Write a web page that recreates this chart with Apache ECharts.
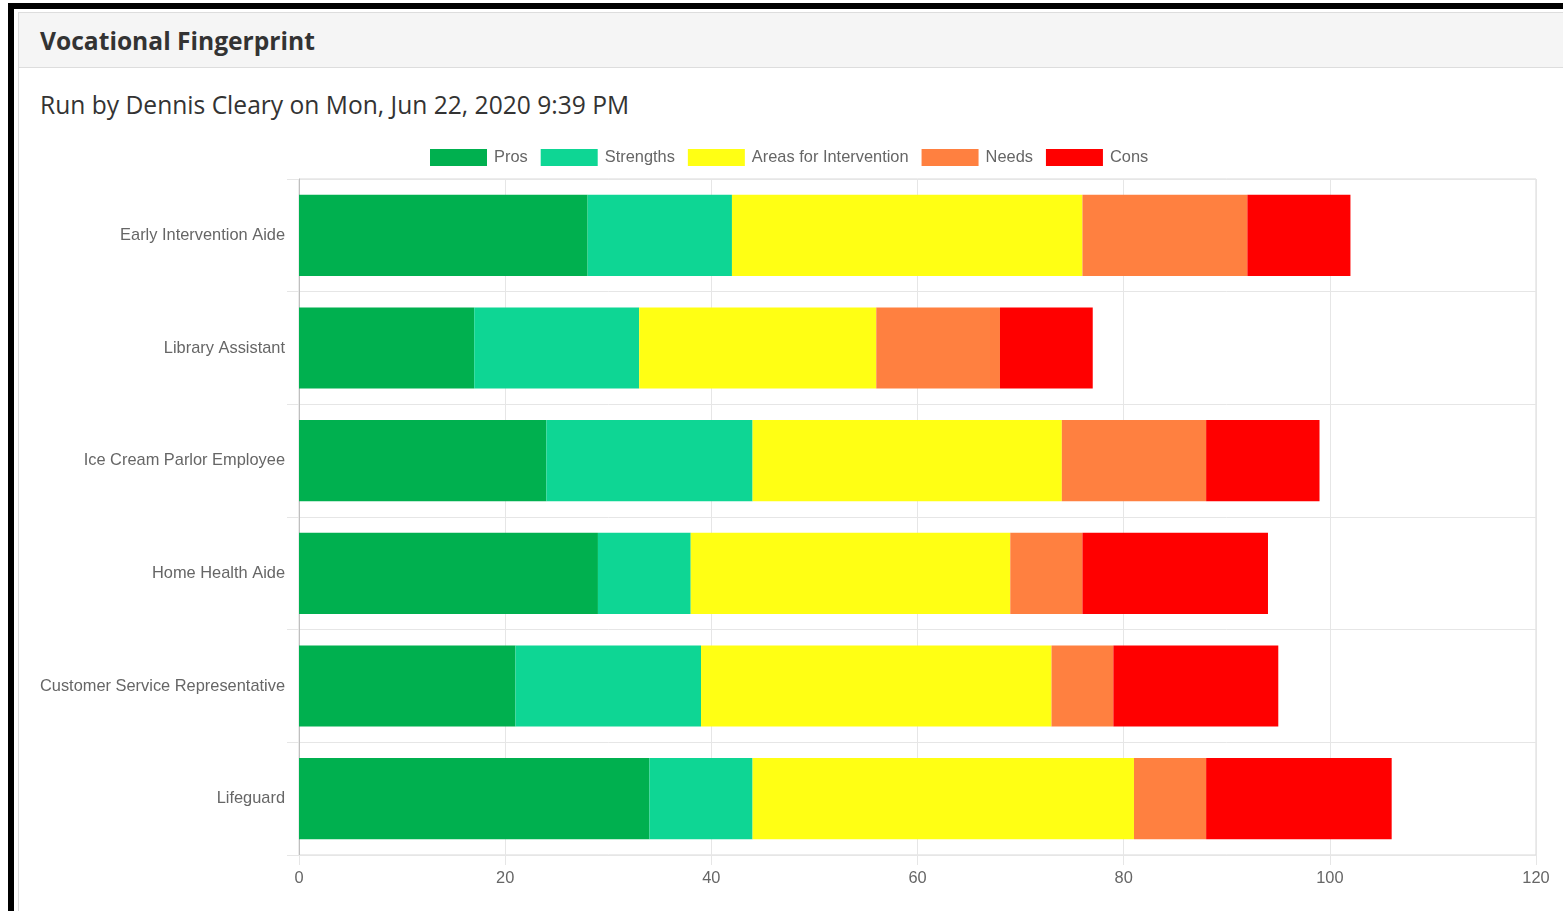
<!DOCTYPE html>
<html>
<head>
<meta charset="utf-8">
<script src="https://cdn.jsdelivr.net/npm/echarts@6/dist/echarts.min.js"></script>
<style>
  html, body { margin: 0; padding: 0; background: #fff; width: 1563px; height: 911px; overflow: hidden; }
  #frame { position: absolute; left: 8px; top: 3px; width: 1600px; height: 960px; border-top: 6px solid #000; border-left: 6px solid #000; box-sizing: border-box; }
  #panel { position: absolute; left: 18px; top: 12px; width: 1600px; height: 960px; border: 1px solid #ddd; box-sizing: border-box; background: #fff; }
  #phead { position: absolute; left: 0; top: 0; right: 0; height: 54px; background: #f5f5f5; border-bottom: 1px solid #ddd; }
  #ptitle { position: absolute; left: 21px; top: 11px; font-family: "Open Sans", sans-serif; font-weight: 700; font-size: 24.6px; color: #333; white-space: nowrap; }
  #sub { position: absolute; left: 40px; top: 88px; font-family: "Open Sans", sans-serif; font-size: 24.6px; color: #333; white-space: nowrap; }
  #chart { position: absolute; left: 0; top: 0; width: 1563px; height: 911px; }
</style>
</head>
<body>
<div id="frame"></div>
<div id="panel"><div id="phead"><div id="ptitle">Vocational Fingerprint</div></div></div>
<div id="sub">Run by Dennis Cleary on Mon, Jun 22, 2020 9:39 PM</div>
<div id="chart"></div>
<script>
const categories = ["Early Intervention Aide", "Library Assistant", "Ice Cream Parlor Employee", "Home Health Aide", "Customer Service Representative", "Lifeguard"];
const seriesNames = ["Pros", "Strengths", "Areas for Intervention", "Needs", "Cons"];
const pros = [28, 17, 24, 29, 21, 34];
const strengths = [14, 16, 20, 9, 18, 10];
const areas = [34, 23, 30, 31, 34, 37];
const needs = [16, 12, 14, 7, 6, 7];
const cons = [10, 9, 11, 18, 16, 18];
const colors = ["#00b04f", "#0ed694", "#ffff14", "#ff8040", "#ff0000"];
const xTicks = { min: 0, max: 120, interval: 20 };

const values = [pros, strengths, areas, needs, cons];
const font = "'Liberation Sans', Arial, Helvetica, sans-serif";

const chart = echarts.init(document.getElementById('chart'), null, { renderer: 'canvas' });
chart.setOption({
  backgroundColor: 'transparent',
  animation: false,
  color: colors,
  legend: {
    top: 149, left: 430,
    padding: 0,
    itemWidth: 57, itemHeight: 17, itemGap: 13,
    icon: 'rect',
    textStyle: { fontSize: 16.4, color: '#666', fontFamily: font, padding: [0, 0, 0, 2] },
    data: seriesNames
  },
  grid: { left: 299, right: 27, top: 179, bottom: 56, show: true, borderColor: '#d9d9d9', borderWidth: 1, containLabel: false },
  xAxis: {
    type: 'value', min: xTicks.min, max: xTicks.max, interval: xTicks.interval,
    axisLine: { show: true, lineStyle: { color: '#e6e6e6' } },
    axisTick: { show: true, length: 10, lineStyle: { color: '#e6e6e6' } },
    splitLine: { show: true, lineStyle: { color: '#e6e6e6' } },
    axisLabel: { fontSize: 16.4, color: '#666', fontFamily: font, margin: 15 }
  },
  yAxis: {
    type: 'category', inverse: true, data: categories,
    axisLine: { show: true, lineStyle: { color: '#bfbfbf' } },
    axisTick: { show: true, length: 12, lineStyle: { color: '#e6e6e6' } },
    splitLine: { show: true, lineStyle: { color: '#e6e6e6' } },
    axisLabel: { fontSize: 16.4, color: '#666', fontFamily: font, margin: 14 }
  },
  series: seriesNames.map((n, i) => ({
    name: n, type: 'bar', stack: 'total', data: values[i],
    barCategoryGap: '28%',
    itemStyle: { color: colors[i] }
  }))
});
</script>
</body>
</html>
